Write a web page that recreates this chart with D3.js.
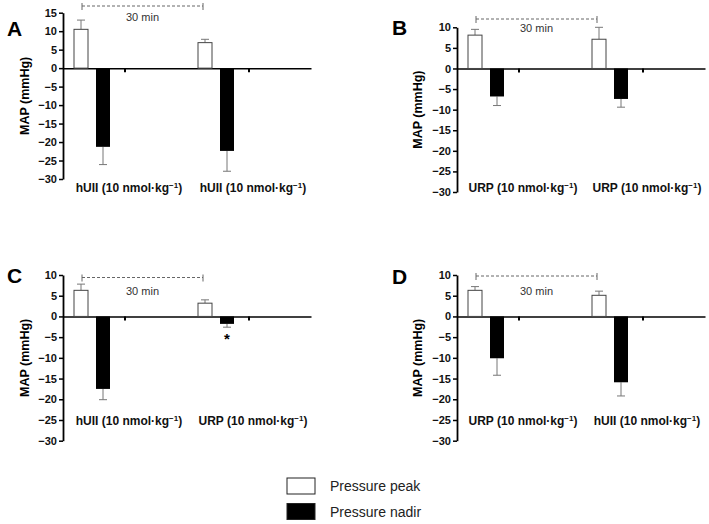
<!DOCTYPE html>
<html>
<head>
<meta charset="utf-8">
<script src="https://cdn.jsdelivr.net/npm/d3@7"></script>
<style>
body { margin: 0; background: #fff; }
text { font-family: "Liberation Sans", Arial, Helvetica, sans-serif; }
</style>
</head>
<body>
<div id="chart"></div>
<script>
// legend / series names
var seriesNames = ["Pressure peak", "Pressure nadir"];

// category labels (drug given), one pair per panel
var catsA = ["hUII", "hUII"];
var catsB = ["URP", "URP"];
var catsC = ["hUII", "URP"];
var catsD = ["URP", "hUII"];

// values (mmHg)
var peakA = [10.5, 6.9];
var peakErrA = [2.5, 0.9];
var nadirA = [-21.3, -22.4];
var nadirErrA = [4.8, 5.5];

var peakB = [8.1, 7.1];
var peakErrB = [1.4, 2.9];
var nadirB = [-6.8, -7.4];
var nadirErrB = [2.2, 2.0];

var peakC = [6.3, 3.2];
var peakErrC = [1.5, 0.8];
var nadirC = [-17.5, -1.8];
var nadirErrC = [2.6, 0.8];

var peakD = [6.3, 5.1];
var peakErrD = [0.9, 1.0];
var nadirD = [-10.1, -15.9];
var nadirErrD = [4.1, 3.3];

// y tick values
var yTicksA = [15, 10, 5, 0, -5, -10, -15, -20, -25, -30];
var yTicks = [10, 5, 0, -5, -10, -15, -20, -25, -30];

var svg = d3.select("#chart")
    .append("svg")
    .attr("width", 709)
    .attr("height", 524);

function drawPanel(p) {
    var g = svg.append("g");

    var y = d3.scaleLinear()
        .domain([-30, p.yMax])
        .range([p.bottom, p.top]);

    var x0 = d3.scaleBand()
        .domain(d3.range(p.cats.length))
        .range([p.left, p.left + 248]);

    var x1 = d3.scaleBand()
        .domain([0, 1])
        .range([11, 47])
        .paddingInner(8 / 22)
        .paddingOuter(0);

    // y axis
    var yAxis = g.append("g")
        .attr("transform", `translate(${p.left},0)`)
        .call(d3.axisLeft(y).tickValues(p.ticks).tickSize(4).tickSizeOuter(0).tickPadding(2));
    yAxis.select(".domain").attr("stroke-width", 1.8);
    yAxis.selectAll(".tick line").attr("stroke-width", 1.5);
    yAxis.selectAll("text")
        .attr("font-size", 11)
        .attr("font-weight", "bold")
        .attr("fill", "#111");

    // x axis at zero
    var xAxis = g.append("g")
        .attr("transform", `translate(0,${y(0)})`)
        .call(d3.axisBottom(x0).tickSize(4).tickSizeOuter(0).tickFormat(""));
    xAxis.select(".domain").attr("stroke-width", 1.5);
    xAxis.selectAll(".tick line").attr("stroke-width", 2);

    var rows = p.cats.map(function(c, i) {
        return { i: i, cat: c, peak: p.peak[i], peakErr: p.peakErr[i], nadir: p.nadir[i], nadirErr: p.nadirErr[i] };
    });

    var bw = x1.bandwidth();

    // error bars (drawn first so bars sit on top)
    rows.forEach(function(d) {
        var cp = x0(d.i) + x1(0) + bw / 2;
        var cn = x0(d.i) + x1(1) + bw / 2;
        var eb = [
            { cx: cp, y1: y(d.peak), y2: y(d.peak + d.peakErr) },
            { cx: cn, y1: y(d.nadir), y2: y(d.nadir - d.nadirErr) }
        ];
        eb.forEach(function(e) {
            g.append("line")
                .attr("x1", e.cx).attr("x2", e.cx)
                .attr("y1", e.y1).attr("y2", e.y2)
                .attr("stroke", "#777").attr("stroke-width", 1);
            g.append("line")
                .attr("x1", e.cx - 4).attr("x2", e.cx + 4)
                .attr("y1", e.y2).attr("y2", e.y2)
                .attr("stroke", "#777").attr("stroke-width", 1);
        });
    });

    // peak bars (white)
    g.selectAll(".peak")
        .data(rows)
        .enter().append("rect")
        .attr("x", d => x0(d.i) + x1(0))
        .attr("y", d => y(d.peak))
        .attr("width", bw)
        .attr("height", d => y(0) - y(d.peak))
        .attr("fill", "#fff")
        .attr("stroke", "#444")
        .attr("stroke-width", 1);

    // nadir bars (black)
    g.selectAll(".nadir")
        .data(rows)
        .enter().append("rect")
        .attr("x", d => x0(d.i) + x1(1))
        .attr("y", y(0))
        .attr("width", bw)
        .attr("height", d => y(d.nadir) - y(0))
        .attr("fill", "#000");

    // category labels
    rows.forEach(function(d) {
        var t = g.append("text")
            .attr("x", x0(d.i) + x0.bandwidth() / 2 + 4)
            .attr("y", p.labelY)
            .attr("text-anchor", "middle")
            .attr("font-size", 12)
            .attr("font-weight", "bold")
            .attr("fill", "#111");
        t.append("tspan").text(d.cat + " (10 nmol·kg");
        t.append("tspan").attr("dy", -4.5).attr("font-size", 8).text("−1");
        t.append("tspan").attr("dy", 4.5).text(")");
    });

    // 30 min bracket
    var bx1 = x0(0) + x1(0) + bw / 2 + 1;
    var bx2 = x0(1) + x1(0) + bw / 2 - 2;
    g.append("line")
        .attr("x1", bx1).attr("x2", bx2)
        .attr("y1", p.bracketY).attr("y2", p.bracketY)
        .attr("stroke", "#666").attr("stroke-width", 1)
        .attr("stroke-dasharray", "3,2");
    [bx1, bx2].forEach(function(bx) {
        g.append("line")
            .attr("x1", bx).attr("x2", bx)
            .attr("y1", p.bracketY - 3).attr("y2", p.bracketY + 4)
            .attr("stroke", "#666").attr("stroke-width", 1);
    });
    g.append("text")
        .attr("x", (bx1 + bx2) / 2)
        .attr("y", p.minY)
        .attr("text-anchor", "middle")
        .attr("font-size", 11)
        .attr("fill", "#333")
        .text("30 min");

    // panel letter
    g.append("text")
        .attr("x", p.letterX)
        .attr("y", p.letterY)
        .attr("font-size", 21)
        .attr("font-weight", "bold")
        .text(p.letter);

    // y axis title
    g.append("text")
        .attr("transform", `translate(${p.titleX},${(p.top + p.bottom) / 2}) rotate(-90)`)
        .attr("text-anchor", "middle")
        .attr("font-size", 12.5)
        .attr("font-weight", "bold")
        .text("MAP (mmHg)");

    // significance star
    if (p.star != null) {
        var i = p.star;
        g.append("text")
            .attr("x", x0(i) + x1(1) + bw / 2)
            .attr("y", y(p.nadir[i] - p.nadirErr[i]) + 17)
            .attr("text-anchor", "middle")
            .attr("font-size", 15)
            .attr("font-weight", "bold")
            .text("*");
    }
}

drawPanel({ letter: "A", letterX: 7, letterY: 36, titleX: 29, left: 63, top: 12.7, bottom: 179, yMax: 15,
    ticks: yTicksA, cats: catsA, peak: peakA, peakErr: peakErrA, nadir: nadirA, nadirErr: nadirErrA,
    labelY: 192, bracketY: 6, minY: 21 });
drawPanel({ letter: "B", letterX: 392, letterY: 35, titleX: 422, left: 457, top: 27.3, bottom: 192, yMax: 10,
    ticks: yTicks, cats: catsB, peak: peakB, peakErr: peakErrB, nadir: nadirB, nadirErr: nadirErrB,
    labelY: 192, bracketY: 19, minY: 32 });
drawPanel({ letter: "C", letterX: 7, letterY: 283, titleX: 29, left: 63, top: 275, bottom: 440.7, yMax: 10,
    ticks: yTicks, cats: catsC, peak: peakC, peakErr: peakErrC, nadir: nadirC, nadirErr: nadirErrC,
    labelY: 425, bracketY: 277.5, minY: 295, star: 1 });
drawPanel({ letter: "D", letterX: 392, letterY: 284, titleX: 422, left: 457, top: 275, bottom: 440.7, yMax: 10,
    ticks: yTicks, cats: catsD, peak: peakD, peakErr: peakErrD, nadir: nadirD, nadirErr: nadirErrD,
    labelY: 425, bracketY: 276, minY: 295 });

// legend
var legend = svg.append("g").attr("transform", "translate(287,478)");
seriesNames.forEach(function(name, i) {
    legend.append("rect")
        .attr("x", 0).attr("y", i * 25.5)
        .attr("width", 28).attr("height", 16)
        .attr("fill", i === 0 ? "#fff" : "#000")
        .attr("stroke", "#222").attr("stroke-width", 1);
    legend.append("text")
        .attr("x", 43).attr("y", i * 25.5 + 13)
        .attr("font-size", 14)
        .attr("fill", "#222")
        .text(name);
});
</script>
</body>
</html>
